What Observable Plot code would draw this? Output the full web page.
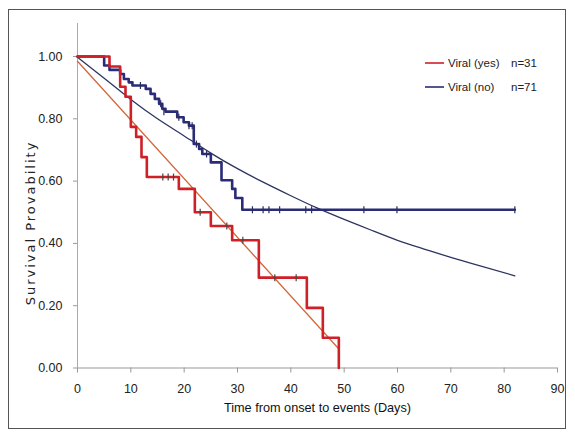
<!DOCTYPE html>
<html>
<head>
<meta charset="utf-8">
<script src="https://cdn.jsdelivr.net/npm/d3@7"></script>
<script src="https://cdn.jsdelivr.net/npm/@observablehq/plot@0.6"></script>
<style>
  html, body { margin: 0; padding: 0; background: #fff; }
  #wrap { position: relative; width: 575px; height: 432px; overflow: hidden; }
  #border { position: absolute; left: 8px; top: 9px; width: 558px; height: 420px; border: 1px solid #555; box-sizing: border-box; pointer-events: none; }
  #overlay { position: absolute; left: 0; top: 0; }
</style>
</head>
<body>
<div id="wrap"><div id="border"></div></div>
<script>
// ---- data ----
const xTicks = [0, 10, 20, 30, 40, 50, 60, 70, 80, 90];
const yTicks = [0, 0.2, 0.4, 0.6, 0.8, 1.0];

// Kaplan-Meier steps: Viral (yes), n=31
const yesTime = [0, 6, 8, 9, 10, 11, 12, 13, 19, 22, 25, 29, 34, 43, 46, 49];
const yesSurv = [1.0, 0.968, 0.903, 0.871, 0.774, 0.742, 0.677, 0.613, 0.575, 0.50, 0.456, 0.41, 0.29, 0.193, 0.097, 0.0];
const yesCensTime = [16, 17, 18, 23, 28, 31, 37, 41];
const yesCensSurv = [0.613, 0.613, 0.613, 0.50, 0.456, 0.41, 0.29, 0.29];

// Kaplan-Meier steps: Viral (no), n=71
const noTime = [0, 5, 6, 8, 8.7, 9.6, 10.3, 12.8, 13.7, 14.5, 15.3, 15.9, 16.5, 18.7, 19.9, 20.9, 21.8, 22.8, 23.4, 25, 27, 29, 29.6, 30.9, 82];
const noSurv = [1.0, 0.971, 0.957, 0.944, 0.928, 0.917, 0.907, 0.896, 0.88, 0.864, 0.848, 0.832, 0.823, 0.805, 0.789, 0.778, 0.719, 0.703, 0.687, 0.66, 0.603, 0.575, 0.546, 0.508, 0.508];
const noCensTime = [11.8, 15.6, 16.2, 19, 20.9, 21.5, 22.3, 24.2, 32.8, 34.8, 35.9, 37.9, 42.8, 43.9, 53.7, 59.9, 82];
const noCensSurv = [0.907, 0.848, 0.823, 0.805, 0.778, 0.778, 0.719, 0.687, 0.508, 0.508, 0.508, 0.508, 0.508, 0.508, 0.508, 0.508, 0.508];

// Fitted curves
const yesFitTime = [0, 48.8];
const yesFitSurv = [0.985, 0.065];
const noFitTime = [0, 5, 10, 15, 20, 25, 30, 35, 40, 45, 50, 55, 60, 65, 70, 75, 82];
const noFitSurv = [0.998, 0.93, 0.862, 0.80, 0.745, 0.69, 0.64, 0.595, 0.553, 0.513, 0.477, 0.443, 0.41, 0.382, 0.355, 0.33, 0.296];

const seriesNames = ["Viral (yes)", "Viral (no)"];
const seriesN = ["n=31", "n=71"];
const xTitle = "Time from onset to events (Days)";
const yTitle = "Survival Provability";

// ---- build tables ----
const zip = (t, s) => t.map((d, i) => ({t: d, s: s[i]}));
const yes = zip(yesTime, yesSurv);
const no = zip(noTime, noSurv);
const yesC = zip(yesCensTime, yesCensSurv);
const noC = zip(noCensTime, noCensSurv);
const yesFit = zip(yesFitTime, yesFitSurv);
const noFit = zip(noFitTime, noFitSurv);

const RED = "#cf1f27", BLUE = "#2a2c78", RED_FIT = "#d2683a", BLUE_FIT = "#2c3560";
const SANS = "'Liberation Sans', Arial, sans-serif";

const vbar = { draw(ctx, size) { const r = Math.sqrt(size / Math.PI); ctx.moveTo(0, -r); ctx.lineTo(0, r); } };

const chart = Plot.plot({
  width: 575, height: 432,
  marginLeft: 77, marginRight: 18, marginTop: 23, marginBottom: 64.5,
  style: { fontFamily: SANS, fontSize: "12.5px", color: "#222", background: "transparent" },
  x: { domain: [0, 90] },
  y: { domain: [0, 1.106] },
  marks: [
    Plot.ruleX([0], { stroke: "#aaa", strokeWidth: 1 }),
    Plot.ruleY([0], { stroke: "#999", strokeWidth: 1 }),
    Plot.axisX({ ticks: xTicks, tickSize: 5, tickPadding: 11, tickFormat: d => d, label: null, stroke: "#999", fill: "#222" }),
    Plot.axisY({ ticks: yTicks, tickSize: 4, tickPadding: 11, tickFormat: d3.format(".2f"), label: null, stroke: "#999", fill: "#222" }),
    Plot.line(noFit, { x: "t", y: "s", stroke: BLUE_FIT, strokeWidth: 1.3, curve: "natural" }),
    Plot.line(yesFit, { x: "t", y: "s", stroke: RED_FIT, strokeWidth: 1.3 }),
    Plot.line(no, { x: "t", y: "s", stroke: BLUE, strokeWidth: 2.6, curve: "step-after" }),
    Plot.line(yes, { x: "t", y: "s", stroke: RED, strokeWidth: 2.6, curve: "step-after" }),
    Plot.dot(noC, { x: "t", y: "s", symbol: vbar, r: 3.5, stroke: "#2a2c5a", strokeWidth: 1.2 }),
    Plot.dot(yesC, { x: "t", y: "s", symbol: vbar, r: 3.5, stroke: "#444", strokeWidth: 1.2 }),
    Plot.text([xTitle], { frameAnchor: "bottom", dy: 44, fontSize: 12.7, fill: "#111" })
  ]
});
document.getElementById("wrap").prepend(chart);

// overlay: y title and legend
const ov = d3.select("#wrap").append("svg").attr("id", "overlay").attr("width", 575).attr("height", 432);
ov.append("text").attr("transform", "translate(35,223) rotate(-90)").attr("text-anchor", "middle")
  .attr("font-family", "'DejaVu Sans', sans-serif").attr("font-size", 13).attr("fill", "#222")
  .style("letter-spacing", "2px").text(yTitle);

const colors = [RED, BLUE];
seriesNames.forEach((name, i) => {
  const y = 63 + i * 24;
  ov.append("line").attr("x1", 425).attr("x2", 444).attr("y1", y).attr("y2", y)
    .attr("stroke", colors[i]).attr("stroke-width", 1.6);
  ov.append("text").attr("x", 448).attr("y", y + 4).text(name)
    .attr("font-family", SANS).attr("font-size", 11.5).attr("fill", "#222");
  ov.append("text").attr("x", 511).attr("y", y + 4).text(seriesN[i])
    .attr("font-family", SANS).attr("font-size", 11.5).attr("fill", "#222");
});
</script>
</body>
</html>
